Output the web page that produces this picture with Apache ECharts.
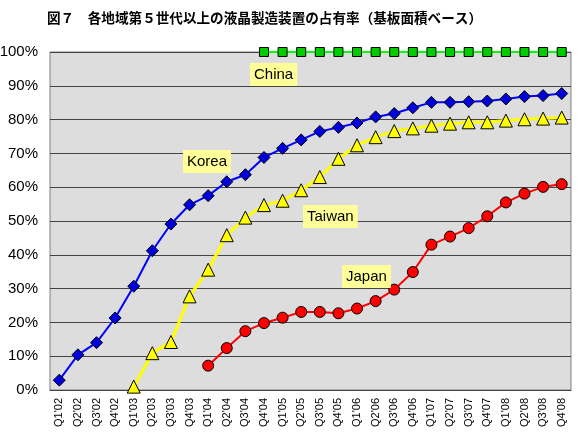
<!DOCTYPE html>
<html>
<head>
<meta charset="utf-8">
<script src="https://cdn.jsdelivr.net/npm/echarts@6/dist/echarts.min.js"></script>
<style>
  html, body { margin: 0; padding: 0; background: #fff; }
  #chart { width: 577px; height: 435px; }
</style>
</head>
<body>
<div id="chart"></div>
<script>
const quarters = ["Q1'02", "Q2'02", "Q3'02", "Q4'02", "Q1'03", "Q2'03", "Q3'03", "Q4'03",
  "Q1'04", "Q2'04", "Q3'04", "Q4'04", "Q1'05", "Q2'05", "Q3'05", "Q4'05",
  "Q1'06", "Q2'06", "Q3'06", "Q4'06", "Q1'07", "Q2'07", "Q3'07", "Q4'07",
  "Q1'08", "Q2'08", "Q3'08", "Q4'08"];

const korea = [2.9, 10.4, 14.0, 21.3, 30.7, 41.2, 49.1, 54.8, 57.5, 61.6, 63.7, 68.8, 71.5, 74.0,
  76.5, 77.7, 79.0, 80.8, 81.8, 83.5, 85.1, 85.1, 85.3, 85.5, 86.1, 86.8, 87.1, 87.7];
const taiwan = [null, null, null, null, 1.0, 10.9, 14.2, 27.7, 35.6, 45.8, 51.0, 54.7, 56.0, 59.1,
  63.0, 68.4, 72.4, 74.8, 76.6, 77.4, 78.2, 78.8, 79.2, 79.2, 79.7, 80.1, 80.3, 80.6];
const japan = [null, null, null, null, null, null, null, null, 7.2, 12.4, 17.4, 19.8, 21.4, 23.1,
  23.1, 22.7, 24.1, 26.3, 29.7, 34.9, 43.0, 45.4, 47.9, 51.4, 55.5, 58.1, 60.1, 60.9];
const china = [null, null, null, null, null, null, null, null, null, null, null, 100, 100, 100,
  100, 100, 100, 100, 100, 100, 100, 100, 100, 100, 100, 100, 100, 100];

const yTicks = [0, 10, 20, 30, 40, 50, 60, 70, 80, 90, 100];

const chart = echarts.init(document.getElementById("chart"));

// yellow name tags sitting on the plot
const tag = (text, x, y) => ({
  type: "text",
  left: x,
  top: y,
  z: 10,
  style: {
    text: text,
    font: "15px 'Liberation Sans', Arial, sans-serif",
    fill: "#000",
    backgroundColor: "#ffff99",
    padding: [4, 4, 4, 4]
  }
});

chart.setOption({
  animation: false,
  title: {
    text: "図７　各地域第５世代以上の液晶製造装置の占有率（基板面積ベース）",
    left: 42,
    top: 6,
    textStyle: {
      fontFamily: "'Noto Sans CJK JP', sans-serif",
      fontSize: 13.6,
      fontWeight: "bold",
      color: "#000"
    }
  },
  grid: {
    left: 50,
    right: 6,
    top: 52,
    bottom: 45,
    outerBoundsMode: "none",
    show: true,
    backgroundColor: "#dddddd",
    borderColor: "#808080",
    borderWidth: 1
  },
  xAxis: {
    type: "category",
    data: quarters,
    boundaryGap: true,
    axisLine: { lineStyle: { color: "#404040", width: 1 } },
    axisTick: { inside: true, length: 5, lineStyle: { color: "#404040" } },
    axisLabel: {
      interval: 0,
      rotate: 90,
      fontSize: 11,
      color: "#000",
      fontFamily: "'Liberation Sans', Arial, sans-serif",
      margin: 8
    }
  },
  yAxis: {
    type: "value",
    min: yTicks[0],
    max: yTicks[yTicks.length - 1],
    interval: 10,
    axisLine: { show: false },
    axisTick: { show: false },
    axisLabel: {
      formatter: "{value}%",
      fontSize: 15,
      color: "#000",
      fontFamily: "'Liberation Sans', Arial, sans-serif",
      margin: 12
    },
    splitLine: { lineStyle: { color: "#444444", width: 1.2 } }
  },
  series: [
    {
      name: "China",
      type: "line",
      data: china,
      symbol: "rect",
      symbolSize: 9,
      lineStyle: { color: "#00ff00", width: 2 },
      itemStyle: { color: "#00cc00", borderColor: "#000", borderWidth: 1 }
    },
    {
      name: "Korea",
      type: "line",
      data: korea,
      symbol: "diamond",
      symbolSize: 12,
      lineStyle: { color: "#0000ff", width: 2 },
      itemStyle: { color: "#0000dd", borderColor: "#000", borderWidth: 1 }
    },
    {
      name: "Taiwan",
      type: "line",
      data: taiwan,
      symbol: "triangle",
      symbolSize: 13,
      lineStyle: { color: "#ffff00", width: 3 },
      itemStyle: { color: "#ffff00", borderColor: "#000", borderWidth: 1 }
    },
    {
      name: "Japan",
      type: "line",
      data: japan,
      symbol: "circle",
      symbolSize: 11,
      lineStyle: { color: "#ff0000", width: 2 },
      itemStyle: { color: "#ff0000", borderColor: "#000", borderWidth: 1 }
    }
  ],
  graphic: [
    tag("China", 250, 63),
    tag("Korea", 183, 150),
    tag("Taiwan", 303, 205),
    tag("Japan", 342, 265)
  ]
});
</script>
</body>
</html>
